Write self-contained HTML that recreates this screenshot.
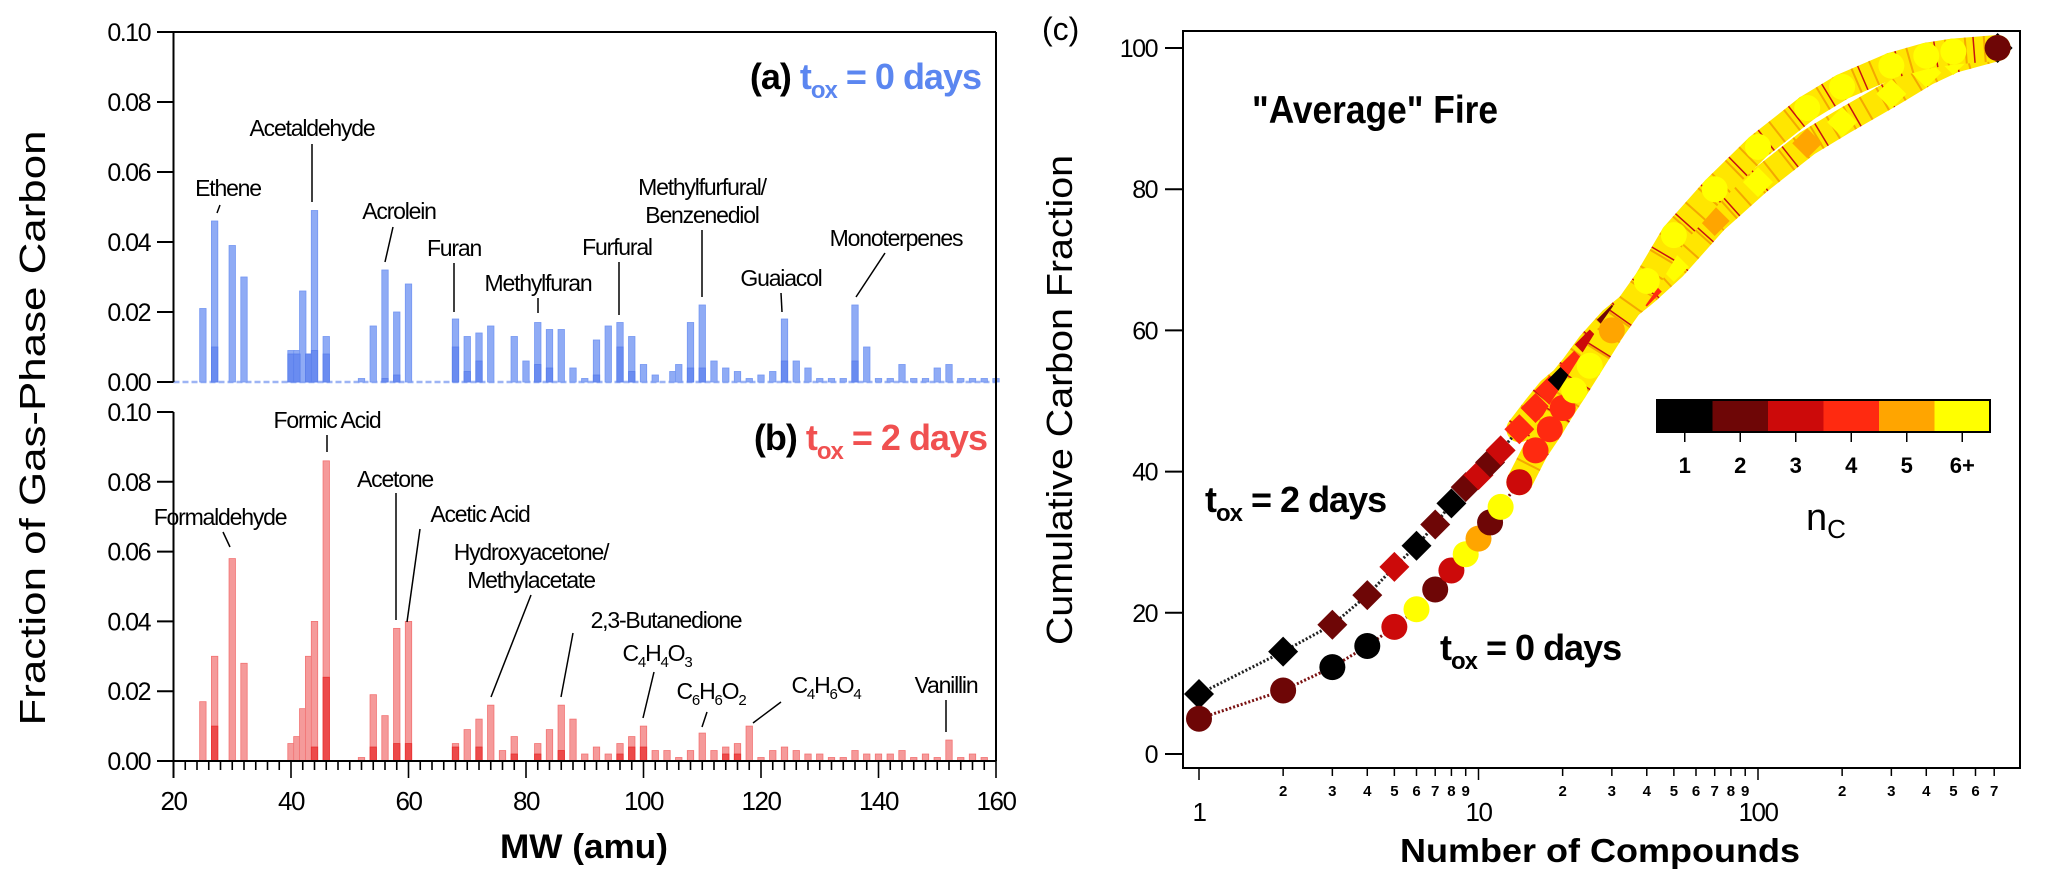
<!DOCTYPE html>
<html><head><meta charset="utf-8"><style>
html,body{margin:0;padding:0;background:#fff}
svg{display:block}
text{font-family:"Liberation Sans",sans-serif}
</style></head><body>
<svg id="fig" width="2067" height="886" viewBox="0 0 2067 886" xmlns="http://www.w3.org/2000/svg">
<g id="left"></g>
<g id="right"></g>
</svg>
<script>
// ---------- Panel (a)/(b) data ----------
const mwTop = [25,27,30,32,40,41,42,43,44,46,52,54,56,58,60,68,70,72,74,78,80,82,84,86,88,90,92,94,96,98,100,102,105,106,108,110,112,114,116,118,120,122,124,126,128,130,132,134,136,138,140,142,144,146,148,150,152,154,156,158,160];
const valTop = [0.021,0.046,0.039,0.030,0.009,0.009,0.026,0.008,0.049,0.013,0.001,0.016,0.032,0.020,0.028,0.018,0.013,0.014,0.016,0.013,0.006,0.017,0.015,0.015,0.004,0.001,0.012,0.016,0.017,0.013,0.005,0.002,0.003,0.005,0.017,0.022,0.006,0.004,0.003,0.001,0.002,0.003,0.018,0.006,0.004,0.001,0.001,0.001,0.022,0.010,0.001,0.001,0.005,0.001,0.001,0.004,0.005,0.001,0.001,0.001,0.001];
const mwTopInner = [27,40,41,43,44,46,56,58,68,70,72,82,84,92,96,98,108,110,124,136];
const valTopInner = [0.010,0.008,0.008,0.008,0.009,0.008,0.001,0.002,0.010,0.003,0.006,0.005,0.004,0.002,0.010,0.003,0.004,0.004,0.006,0.006];
const mwBot = [25,27,30,32,40,41,42,43,44,46,52,54,56,58,60,68,70,72,74,76,78,82,84,86,88,90,92,94,96,98,100,102,104,106,108,110,112,114,116,118,120,122,124,126,128,130,132,134,136,138,140,142,144,146,148,150,152,154,156,158];
const valBot = [0.017,0.030,0.058,0.028,0.005,0.007,0.015,0.030,0.040,0.086,0.001,0.019,0.013,0.038,0.040,0.005,0.009,0.012,0.016,0.003,0.007,0.005,0.009,0.016,0.012,0.002,0.004,0.002,0.005,0.007,0.010,0.003,0.003,0.001,0.003,0.008,0.003,0.004,0.005,0.010,0.001,0.003,0.004,0.003,0.002,0.002,0.001,0.001,0.003,0.002,0.002,0.002,0.003,0.001,0.002,0.001,0.006,0.001,0.002,0.001];
const mwBotInner = [27,44,46,54,58,60,68,72,78,82,86,96,98,100,114,116];
const valBotInner = [0.010,0.004,0.024,0.004,0.005,0.005,0.004,0.004,0.002,0.002,0.003,0.002,0.004,0.004,0.002,0.002];
const yTicksMW = [0,0.02,0.04,0.06,0.08,0.10];
const yTickLabelsMW = ["0.00","0.02","0.04","0.06","0.08","0.10"];
const xTicksMW = [20,40,60,80,100,120,140,160];

// ---------- Panel (c) data ----------
const nTox2 = [1,2,3,4,5,6,7,8,9,10,11,12,14,16,18,20,22,25,30,40,50,70,100,150,200,300,400,500,720];
const cumTox2 = [8.5,14.5,18.3,22.5,26.5,29.5,32.5,35.5,37.8,39.5,41.3,43,46,49,51.5,53,55,58,61.5,65.5,69,75.5,81,86.5,89.5,93.5,96.5,98.3,100];
const ncTox2 = [1,1,2,2,3,1,2,1,2,3,2,3,4,4,4,1,4,3,2,4,6,5,6,5,6,6,6,6,1];
const nTox0 = [1,2,3,4,5,6,7,8,9,10,11,12,14,16,18,20,22,25,30,40,50,70,100,150,200,300,400,500,720];
const cumTox0 = [5,9,12.3,15.3,18,20.5,23.3,26,28.3,30.5,32.8,35,38.5,43,46,49,51.5,55,60,67,73.5,80,86,91.5,94.5,97.5,98.9,99.5,100];
const ncTox0 = [2,2,1,1,3,6,2,3,6,5,2,6,3,4,4,4,6,6,5,6,6,6,6,6,6,6,6,6,2];
const ncLabels = ["1","2","3","4","5","6+"];
const ncColors = ["#000000","#6e0606","#cc0a0a","#ff2a10","#ffa500","#ffff00"];
const yTicksC = [0,20,40,60,80,100];
const xMajorC = [1,10,100];

const NS = "http://www.w3.org/2000/svg";
function mk(parent, tag, attrs, txt){
  const e = document.createElementNS(NS, tag);
  for (const k in attrs) e.setAttribute(k, attrs[k]);
  if (txt !== undefined) e.textContent = txt;
  parent.appendChild(e);
  return e;
}
const L = document.getElementById('left');
const R = document.getElementById('right');

const X0 = 173.5, X1 = 996;
const xMW = m => X0 + (m - 20) * (X1 - X0) / 140;
const yTop = v => 382 - v * 3500;
const yBot = v => 761 - v * 3490;

function bars(mws, vals, ys, fill, stroke, name){
  mws.forEach((m, i) => {
    const y = ys(vals[i]), y0 = ys(0);
    const r = mk(L, 'rect', {x: xMW(m) - 3.2, y: y, width: 6.4, height: Math.max(1.5, y0 - y), fill: fill, stroke: stroke, 'stroke-width': 0.8});
    
    
  });
}
let bl = mk(L, 'line', {x1: X0, y1: 382, x2: X1, y2: 382, stroke: '#9db4f4', 'stroke-width': 2.5, 'stroke-dasharray': '6 3'});
 
bars(mwTop, valTop, yTop, '#8fabf5', '#7396f2', 'bar-a');
bars(mwTopInner, valTopInner, yTop, '#6a8cf0', '#5a7fec', 'bar-a-inner');
bars(mwBot, valBot, yBot, '#f59a9a', '#f27272', 'bar-b');
bars(mwBotInner, valBotInner, yBot, '#ec4a4a', '#e83030', 'bar-b-inner');

function axLine(p, x1, y1, x2, y2, name, w){
  const e = mk(p, 'line', {x1, y1, x2, y2, stroke: '#000', 'stroke-width': w || 2});
   
  return e;
}
axLine(L, X0, 32, X1, 32, 'frame-top-a');
axLine(L, X1, 32, X1, 761, 'frame-right-ab');
axLine(L, X0, 32, X0, 382, 'y-axis-a');
axLine(L, X0, 412, X0, 778, 'y-axis-b');
axLine(L, X0, 761, X1, 761, 'x-axis-b');
[yTop, yBot].forEach((ys) => {
  yTicksMW.forEach((v, i) => {
    axLine(L, 157, ys(v), X0, ys(v), 'y-tick', 2);
    const t = mk(L, 'text', {x: 150, y: ys(v) + 9, 'text-anchor': 'end', 'font-size': 25, fill: '#000', 'letter-spacing': '-1.5'}, yTickLabelsMW[i]);
     
  });
});
for (let m = 20; m <= 160; m += 2){
  const major = (m % 20 === 0);
  axLine(L, xMW(m), 761, xMW(m), major ? 778 : 770, major ? 'x-tick-major' : 'x-tick-minor', 1.6);
}
xTicksMW.forEach(m => {
  const t = mk(L, 'text', {x: xMW(m), y: 810, 'text-anchor': 'middle', 'font-size': 26, fill: '#000', 'letter-spacing': '-1.5'}, String(m));
   
});
let tt = mk(L, 'text', {x: 584, y: 858, 'text-anchor': 'middle', 'font-size': 34, 'font-weight': 'bold', fill: '#000', textLength: 168, lengthAdjust: 'spacingAndGlyphs'}, 'MW (amu)');
 
tt = mk(L, 'text', {x: 0, y: 0, 'text-anchor': 'middle', 'font-size': 36, fill: '#000', transform: 'translate(45,428) rotate(-90)', textLength: 595, lengthAdjust: 'spacingAndGlyphs'}, 'Fraction of Gas-Phase Carbon');
 

function panelTitle(x, y, letter, num, color, name){
  const t = mk(L, 'text', {x, y, 'text-anchor': 'end', 'font-size': 36, 'font-weight': 'bold', fill: '#000', 'letter-spacing': '-1'});
   
  mk(t, 'tspan', {}, letter + ' ');
  mk(t, 'tspan', {fill: color}, 't');
  mk(t, 'tspan', {fill: color, 'font-size': 24, dy: 9}, 'ox');
  mk(t, 'tspan', {fill: color, dy: -9}, ' = ' + num + ' days');
}
panelTitle(981, 89, '(a)', '0', '#5b86f0', 'panel-a-title');
panelTitle(987, 450, '(b)', '2', '#f05050', 'panel-b-title');

function ann(lines, cx, cy, lx1, ly1, lx2, ly2, name){
  lines.forEach((s, i) => {
    const t = mk(L, 'text', {x: cx, y: cy + 8 + i * 28, 'text-anchor': 'middle', 'font-size': 23, fill: '#000', 'letter-spacing': '-1.2'});
     
    if (Array.isArray(s)) { s.forEach(p => { mk(t, 'tspan', p[1] ? {'font-size': 15, dy: 6} : {dy: p[2] ? -6 : 0}, p[0]); }); }
    else t.textContent = s;
  });
  axLine(L, lx1, ly1, lx2, ly2, name + '-leader', 1.5);
}
ann(['Ethene'], 228, 188, 220, 205, 217, 213, 'ethene');
ann(['Acetaldehyde'], 312, 128, 312, 144, 312, 202, 'acetaldehyde');
ann(['Acrolein'], 399, 211, 393, 227, 385, 262, 'acrolein');
ann(['Furan'], 454, 248, 454, 263, 454, 312, 'furan');
ann(['Methylfuran'], 538, 283, 538, 298, 538, 313, 'methylfuran');
ann(['Furfural'], 617, 247, 619, 262, 619, 315, 'furfural');
ann(['Methylfurfural/', 'Benzenediol'], 702, 187, 702, 230, 702, 297, 'methylfurfural');
ann(['Guaiacol'], 781, 278, 781, 293, 782, 312, 'guaiacol');
ann(['Monoterpenes'], 896, 238, 885, 253, 856, 297, 'monoterpenes');
ann(['Formic Acid'], 327, 420, 327, 435, 327, 452, 'formic-acid');
ann(['Formaldehyde'], 220, 517, 223, 532, 230, 547, 'formaldehyde');
ann(['Acetone'], 395, 479, 396, 493, 396, 620, 'acetone');
ann(['Acetic Acid'], 480, 514, 420, 529, 407, 622, 'acetic-acid');
ann(['Hydroxyacetone/', 'Methylacetate'], 531, 552, 531, 595, 491, 697, 'hydroxyacetone');
ann(['2,3-Butanedione'], 666, 620, 573, 633, 561, 697, 'butanedione');
ann([[['C'],['4',1],['H',0,1],['4',1],['O',0,1],['3',1]]], 657, 653, 654, 672, 643, 718, 'c4h4o3');
ann([[['C'],['6',1],['H',0,1],['6',1],['O',0,1],['2',1]]], 711, 691, 707, 712, 702, 727, 'c6h6o2');
ann([[['C'],['4',1],['H',0,1],['6',1],['O',0,1],['4',1]]], 826, 685, 781, 702, 753, 723, 'c4h6o4');
ann(['Vanillin'], 946, 685, 946, 700, 946, 732, 'vanillin');

// ---------- Panel (c) ----------
const CX0 = 1183, CX1 = 2020, CY0 = 31, CY1 = 768;
const xC = n => 1199 + Math.log10(n) * 279.5;
const yC = v => 754 - v * 7.06;
let fr = mk(R, 'rect', {x: CX0, y: CY0, width: CX1 - CX0, height: CY1 - CY0, fill: 'none', stroke: '#000', 'stroke-width': 2});
 
yTicksC.forEach(v => {
  axLine(R, 1165, yC(v), CX0, yC(v), 'y-tick', 2);
  const t = mk(R, 'text', {x: 1157, y: yC(v) + 9, 'text-anchor': 'end', 'font-size': 25, fill: '#000', 'letter-spacing': '-1.5'}, String(v));
   
});
for (let d = 0; d < 3; d++){
  for (let k = 1; k <= 9; k++){
    const n = k * Math.pow(10, d);
    if (n > 750) break;
    axLine(R, xC(n), CY1, xC(n), CY1 + (k === 1 ? 12 : 8), k === 1 ? 'x-tick-major' : 'x-tick-minor', 1.5);
    if (k > 1) {
      const t = mk(R, 'text', {x: xC(n), y: 796, 'text-anchor': 'middle', 'font-size': 15, 'font-weight': 'bold', fill: '#000'}, String(k));
       
    }
  }
}
xMajorC.forEach(n => {
  const t = mk(R, 'text', {x: xC(n), y: 821, 'text-anchor': 'middle', 'font-size': 26, fill: '#000', 'letter-spacing': '-1.5'}, String(n));
   
});
tt = mk(R, 'text', {x: 1600, y: 862, 'text-anchor': 'middle', 'font-size': 33, 'font-weight': 'bold', fill: '#000', textLength: 400, lengthAdjust: 'spacingAndGlyphs'}, 'Number of Compounds');
 
tt = mk(R, 'text', {x: 0, y: 0, 'text-anchor': 'middle', 'font-size': 36, fill: '#000', transform: 'translate(1072,400) rotate(-90)', textLength: 490, lengthAdjust: 'spacingAndGlyphs'}, 'Cumulative Carbon Fraction');
 
tt = mk(R, 'text', {x: 1042, y: 40, 'font-size': 32, fill: '#000'}, '(c)');
 
tt = mk(R, 'text', {x: 1252, y: 123, 'font-size': 39, 'font-weight': 'bold', fill: '#000', textLength: 246, lengthAdjust: 'spacingAndGlyphs'}, '"Average" Fire');
 

function series(ns, cs, ncs, shape, lineColor, name){
  const pts = ns.map((n, i) => xC(n) + ',' + yC(cs[i]));
  const dense = ns.map((n, i) => [n, i]).filter(p => p[0] >= 14).map(p => xC(p[0]) + ',' + yC(cs[p[1]]));
  let b = mk(R, 'polyline', {points: dense.join(' '), fill: 'none', stroke: '#ffe600', 'stroke-width': 26, 'stroke-linejoin': 'round', 'stroke-linecap': 'round'});
   
  b = mk(R, 'polyline', {points: dense.join(' '), fill: 'none', stroke: '#f4a800', 'stroke-width': 26, 'stroke-dasharray': '2 17'});
   
  b = mk(R, 'polyline', {points: dense.join(' '), fill: 'none', stroke: '#c81010', 'stroke-width': 26, 'stroke-dasharray': '1.5 37'});
   
  const ln = mk(R, 'polyline', {points: pts.filter((p, i) => ns[i] <= 14).join(' '), fill: 'none', stroke: lineColor, 'stroke-width': 3, 'stroke-dasharray': '2 2'});
   
  ns.forEach((n, i) => {
    const x = xC(n), y = yC(cs[i]), col = ncColors[ncs[i] - 1];
    let m;
    if (shape === 'diamond') m = mk(R, 'polygon', {points: `${x},${y-15} ${x+15},${y} ${x},${y+15} ${x-15},${y}`, fill: col});
    else m = mk(R, 'circle', {cx: x, cy: y, r: 13, fill: col});
    
    
  });
}
series(nTox2, cumTox2, ncTox2, 'diamond', '#222', 'tox2');
series(nTox0, cumTox0, ncTox0, 'circle', '#7a1010', 'tox0');

function seriesLabel(x, y, num, name){
  const t = mk(R, 'text', {x, y, 'font-size': 36, 'font-weight': 'bold', fill: '#000', 'letter-spacing': '-1'});
   
  mk(t, 'tspan', {}, 't');
  mk(t, 'tspan', {'font-size': 24, dy: 9}, 'ox');
  mk(t, 'tspan', {dy: -9}, ' = ' + num + ' days');
}
seriesLabel(1205, 512, '2', 'tox2-label');
seriesLabel(1440, 660, '0', 'tox0-label');

const cbX0 = 1657, cbX1 = 1990, cbY = 400, cbH = 32;
const cw = (cbX1 - cbX0) / ncColors.length;
ncColors.forEach((c, i) => {
  const r = mk(R, 'rect', {x: cbX0 + i * cw, y: cbY, width: cw + 0.5, height: cbH, fill: c});
   
  axLine(R, cbX0 + (i + 0.5) * cw, cbY + cbH, cbX0 + (i + 0.5) * cw, cbY + cbH + 10, 'colorbar-tick', 1.5);
  const t = mk(R, 'text', {x: cbX0 + (i + 0.5) * cw, y: 473, 'text-anchor': 'middle', 'font-size': 22, 'font-weight': 'bold', fill: '#000'}, ncLabels[i]);
   
});
let cbf = mk(R, 'rect', {x: cbX0, y: cbY, width: cbX1 - cbX0, height: cbH, fill: 'none', stroke: '#000', 'stroke-width': 2});
 
tt = mk(R, 'text', {x: 1806, y: 530, 'font-size': 38, fill: '#000'});
 
mk(tt, 'tspan', {}, 'n');
mk(tt, 'tspan', {'font-size': 26, dy: 8}, 'C');
</script>
</body></html>
